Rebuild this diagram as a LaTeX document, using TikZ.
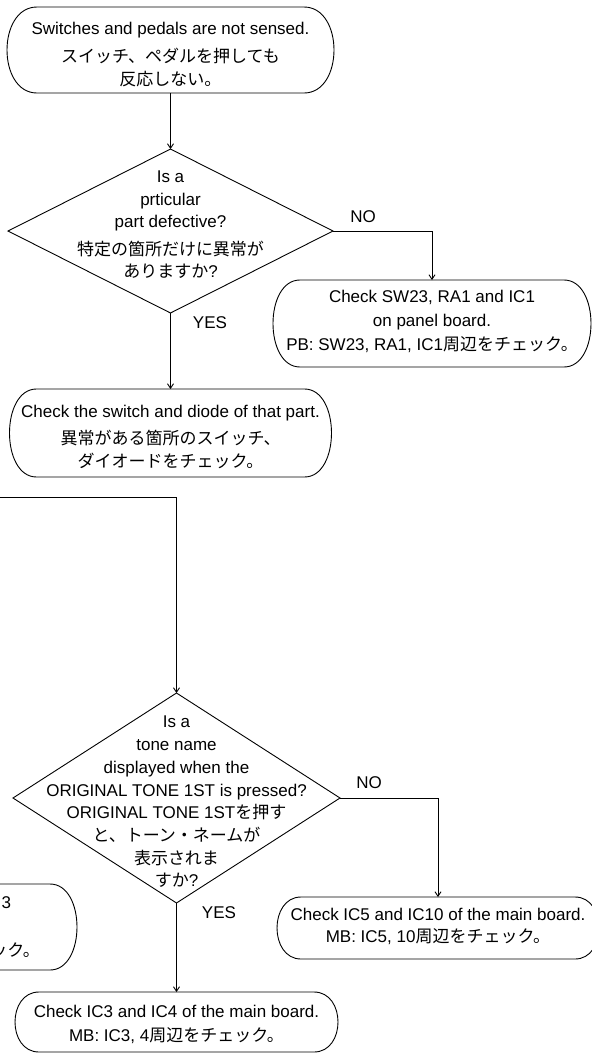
\documentclass[tikz,border=0pt]{standalone}
\usepackage{fontspec}
\setmainfont{Liberation Sans}
\newfontfamily\jpfont{Noto Sans CJK JP}
\newcommand\jpt[1]{{\jpfont #1}}
\usetikzlibrary{arrows.meta,shapes.geometric}
\tikzset{
  ln/.style={line width=0.9pt, black},
  arr/.style={ln, -{Straight Barb[length=4.5pt,width=6pt]}},
  txt/.style={align=center, inner sep=0pt, outer sep=0pt, font=\fontsize{17}{23}\selectfont},
  lbl/.style={inner sep=0pt, outer sep=0pt, font=\fontsize{17}{20}\selectfont},
  capnode/.style={rectangle, inner sep=0pt, outer sep=0pt},
  dia/.style={diamond, draw, ln, inner sep=0pt, outer sep=0pt},
}
\newcommand\drawcap[2]{%
  \draw[ln] ([xshift=#2pt]#1.north west) -- ([xshift=-#2pt]#1.north east)
    .. controls ([xshift=#2pt/3]#1.north east) and ([xshift=#2pt/3]#1.south east) .. ([xshift=-#2pt]#1.south east)
    -- ([xshift=#2pt]#1.south west)
    .. controls ([xshift=-#2pt/3]#1.south west) and ([xshift=-#2pt/3]#1.north west) .. ([xshift=#2pt]#1.north west) -- cycle;}
\begin{document}
\begin{tikzpicture}[x=1pt,y=-1pt]
\useasboundingbox (0,0) rectangle (592,1053);
\fill[white] (0,0) rectangle (592,1053);
\clip (0,0) rectangle (592,1053);

% start terminal
\node[capnode, minimum width=327pt, minimum height=86pt] (term) at (170.5,50) {};
\drawcap{term}{30}
\node[txt] (termt) at (170.5,55) {Switches and pedals are not sensed.\\[5pt]\jpt{スイッチ、ペダルを押しても}\\\jpt{反応しない。}};

% decision 1
\node[dia, minimum width=325pt, minimum height=164pt] (d1) at (170.5,231) {};
\node[txt, font=\fontsize{17}{22.5}\selectfont] (d1t) at (170.5,225) {Is a\\prticular\\part defective?\\[5pt]\jpt{特定の箇所だけに異常が}\\\jpt{ありますか}?};

% panel board box
\node[capnode, minimum width=318pt, minimum height=87pt] (pb) at (432,323.5) {};
\drawcap{pb}{27}
\node[txt, font=\fontsize{17}{24}\selectfont] (pbt) at (432,321) {Check SW23, RA1 and IC1\\on panel board.\\PB: SW23, RA1, IC1\jpt{周辺をチェック。}};

% switch / diode box
\node[capnode, minimum width=322pt, minimum height=88pt] (b2) at (170.5,433) {};
\drawcap{b2}{27}
\node[txt] (b2t) at (170.5,437) {Check the switch and diode of that part.\\[4pt]\jpt{異常がある箇所のスイッチ、}\\\jpt{ダイオードをチェック。}};

% decision 2
\node[dia, minimum width=327pt, minimum height=210pt] (d2) at (176.5,798) {};
\node[txt, font=\fontsize{17}{22.7}\selectfont] (d2t) at (176.5,802) {Is a\\tone name\\displayed when the\\ORIGINAL TONE 1ST is pressed?\\ORIGINAL TONE 1ST\jpt{を押す}\\\jpt{と、トーン・ネームが}\\\jpt{表示されま}\\\jpt{すか}?};

% IC5 box
\node[capnode, minimum width=322pt, minimum height=62pt] (ic5) at (438,928) {};
\drawcap{ic5}{24}
\node[txt, font=\fontsize{17}{22}\selectfont] (ic5t) at (438,926) {Check IC5 and IC10 of the main board.\\MB: IC5, 10\jpt{周辺をチェック。}};

% IC3 box
\node[capnode, minimum width=323pt, minimum height=60pt] (ic3) at (176.5,1022) {};
\drawcap{ic3}{24}
\node[txt, font=\fontsize{17}{24}\selectfont] (ic3t) at (176.5,1024) {Check IC3 and IC4 of the main board.\\MB: IC3, 4\jpt{周辺をチェック。}};

% partial box at left edge
\node[capnode, minimum width=320pt, minimum height=86pt] (pl) at (-83,927) {};
\drawcap{pl}{27}
\node[txt, anchor=east] (plt1) at (11,903) {3};
\node[txt, anchor=east] (plt2) at (40,950) {\jpt{ック。}};

% labels
\node[lbl] (no1) at (363,217) {NO};
\node[lbl] (yes1) at (210,323) {YES};
\node[lbl] (no2) at (369,783) {NO};
\node[lbl] (yes2) at (219,913) {YES};

% connectors
\coordinate (loopin) at (-2,497);
\draw[arr] (term.south) -- (d1.north);
\draw[arr] (d1.east) -| (pb.north);
\draw[arr] (d1.south) -- (b2.north);
\draw[arr] (loopin) -| (d2.north);
\draw[arr] (d2.east) -| (ic5.north);
\draw[arr] (d2.south) -- (ic3.north);
\end{tikzpicture}
\end{document}
